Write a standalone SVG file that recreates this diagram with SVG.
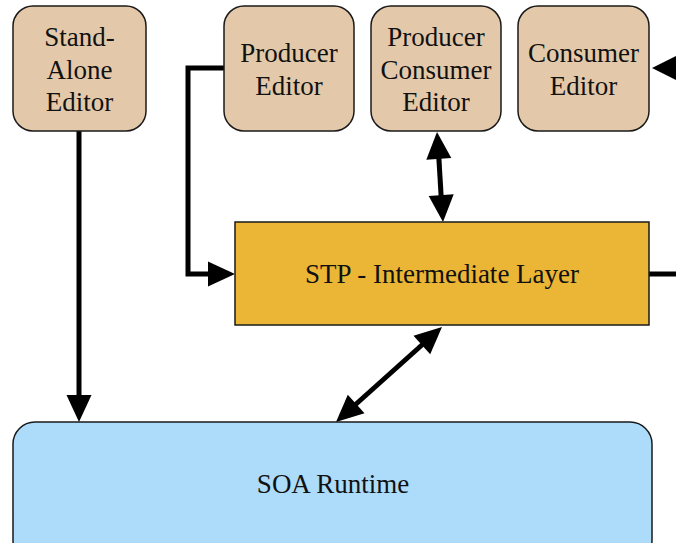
<svg xmlns="http://www.w3.org/2000/svg" width="676" height="543" viewBox="0 0 676 543">
<defs>
<style>
.ed{fill:#E3C9AA;stroke:#1a1a1a;stroke-width:1.5}
.t{font-family:"Liberation Serif","Times New Roman",serif;font-size:27px;fill:#111;text-anchor:middle}
.c{fill:none;stroke:#000;stroke-width:5}
.h{fill:#000}
</style>
</defs>
<g id="connectors">
<path class="c" d="M224,68 L188,68 L188,274 L210,274"/>
<polygon class="h" points="235,274 208,261.5 208,286.5"/>
<path class="c" d="M79,131 L79,397"/>
<polygon class="h" points="79,422 66.5,395 91.5,395"/>
<path class="c" d="M438.8,157 L441.2,197"/>
<polygon class="h" points="437,132 451.3,158.1 426.3,159.7"/>
<polygon class="h" points="443,222 453.7,194.3 428.7,195.9"/>
<path class="c" d="M423,344 L355,405"/>
<polygon class="h" points="442,327 430.2,354.3 413.5,335.7"/>
<polygon class="h" points="336,422 364.5,413.3 347.8,394.7"/>
<path class="c" d="M649,274 L676,274"/>
<polygon class="h" points="652,68 676,56 676,80"/>
</g>
<g id="standalone">
<rect class="ed" x="13" y="6" width="133" height="125" rx="20"/>
<text class="t" x="79.5" y="46">Stand-</text>
<text class="t" x="79.5" y="79">Alone</text>
<text class="t" x="79.5" y="111">Editor</text>
</g>
<g id="producer">
<rect class="ed" x="224" y="6" width="130" height="125" rx="20"/>
<text class="t" x="289" y="62">Producer</text>
<text class="t" x="289" y="95">Editor</text>
</g>
<g id="prodcons">
<rect class="ed" x="371" y="6" width="130" height="125" rx="20"/>
<text class="t" x="436" y="46">Producer</text>
<text class="t" x="436" y="79">Consumer</text>
<text class="t" x="436" y="111">Editor</text>
</g>
<g id="consumer">
<rect class="ed" x="518" y="6" width="131" height="125" rx="20"/>
<text class="t" x="583.5" y="62">Consumer</text>
<text class="t" x="583.5" y="95">Editor</text>
</g>
<g id="stp">
<rect x="235" y="222" width="414" height="103" fill="#EBB636" stroke="#1a1a1a" stroke-width="1.5"/>
<text class="t" x="442" y="283">STP - Intermediate Layer</text>
</g>
<g id="soa">
<rect x="13" y="422" width="639" height="140" rx="22" fill="#ADDCFA" stroke="#1a1a1a" stroke-width="1.5"/>
<text class="t" x="333" y="493">SOA Runtime</text>
</g>
</svg>
